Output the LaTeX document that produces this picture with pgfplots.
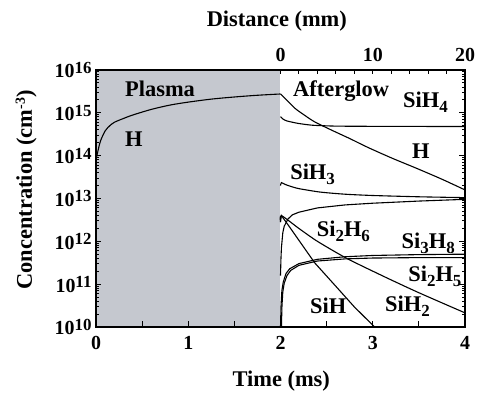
\documentclass[border=0pt]{standalone}
\usepackage{pgfplots}
\pgfplotsset{compat=1.18}
\usepackage{pgfplotstable}
\usepackage{fontspec}
\setmainfont{Liberation Serif}
\definecolor{plasmagray}{RGB}{197,200,207}
\newcommand\pw[1]{10\raisebox{4.5bp}{\fontsize{17}{17}\selectfont #1}}
\newcommand\sub[1]{\raisebox{-5bp}{\fontsize{17}{17}\selectfont #1}}
\newcommand\lab{\fontsize{22.5}{24}\selectfont\bfseries}

\pgfplotstableread{
x y
0 13.9
0.02 14.1
0.05 14.35
0.1 14.58
0.15 14.7
0.2 14.78
0.3 14.87
0.4 14.95
0.6 15.08
0.8 15.18
1.0 15.25
1.25 15.32
1.5 15.37
1.75 15.41
2.0 15.44
}\Hplasma
\pgfplotstableread{
x y
2.0 15.44
2.03 15.38
2.08 15.27
2.16 15.10
2.25 14.96
2.37 14.79
2.55 14.60
2.75 14.40
2.94 14.20
3.2 13.95
3.48 13.70
3.75 13.45
4.0 13.20
}\Hafter
\pgfplotstableread{
x y
2.0 14.91
2.03 14.85
2.07 14.81
2.13 14.78
2.2 14.75
2.35 14.71
2.6 14.69
3.0 14.685
4.0 14.68
}\SiHfour
\pgfplotstableread{
x y
2.0 13.30
2.01 13.37
2.05 13.33
2.1 13.29
2.2 13.23
2.43 13.15
2.7 13.10
3.0 13.07
3.5 13.04
4.0 13.02
}\SiHthree
\pgfplotstableread{
x y
2.0 11.2
2.005 11.6
2.01 11.85
2.025 12.2
2.04 12.35
2.08 12.52
2.13 12.62
2.2 12.68
2.4 12.78
2.7 12.85
3.0 12.89
3.5 12.94
4.0 12.98
}\SiTwoHsix
\pgfplotstableread{
x y
2.0 12.45
2.01 12.6
2.1 12.33
2.37 11.5
2.6 10.95
2.8 10.47
3.02 10.0
}\SiH
\pgfplotstableread{
x y
2.0 12.45
2.01 12.6
2.2 12.3
2.4 12.0
2.72 11.6
3.13 11.17
3.5 10.8
4.0 10.33
}\SiTwoHfive
\pgfplotstableread{
x y
2.0 10.0
2.006 10.5
2.015 10.85
2.03 11.05
2.06 11.25
2.1 11.36
2.2 11.48
2.4 11.58
2.7 11.64
3.0 11.67
3.5 11.69
4.0 11.70
}\SiThreeHeight
\pgfplotstableread{
x y
2.01 10.0
2.016 10.5
2.025 10.82
2.04 11.02
2.07 11.2
2.11 11.32
2.2 11.44
2.4 11.54
2.7 11.59
3.0 11.61
3.5 11.62
4.0 11.62
}\SiHtwo

\begin{document}
\begin{tikzpicture}
\begin{axis}[
  scale only axis, width=369bp, height=257bp,
  xmin=0, xmax=4, ymode=log, ymin=1e10, ymax=1e16,
  axis on top, clip=false,
  axis line style={line width=1.5bp},
  tick style={line width=1bp, black},
  major tick length=5.5bp, minor tick length=3.2bp,
  tick align=inside,
  xtick={0,0.5,...,4}, xticklabels={0,,1,,2,,3,,4},
  xtick pos=left,
  ytick={1e10,1e11,1e12,1e13,1e14,1e15,1e16},
  yticklabels={\pw{10},\pw{11},\pw{12},\pw{13},\pw{14},\pw{15},\pw{16}},
  minor ytick={2e10,3e10,4e10,5e10,6e10,7e10,8e10,9e10,
    2e11,3e11,4e11,5e11,6e11,7e11,8e11,9e11,
    2e12,3e12,4e12,5e12,6e12,7e12,8e12,9e12,
    2e13,3e13,4e13,5e13,6e13,7e13,8e13,9e13,
    2e14,3e14,4e14,5e14,6e14,7e14,8e14,9e14,
    2e15,3e15,4e15,5e15,6e15,7e15,8e15,9e15},
  ytick pos=both, yticklabel pos=left,
  xticklabel style={font=\fontsize{20}{20}\selectfont\bfseries, anchor=north, yshift=-6bp},
  yticklabel style={font=\fontsize{20}{20}\selectfont\bfseries, anchor=base east, yshift=-8bp, xshift=-1bp},
]
\addplot[draw=none, fill=plasmagray, no marks] coordinates {(0,1e10) (0,1e16) (2,1e16) (2,1e10)};
\pgfplotsset{curve/.style={black, no marks, line width=1.1bp}}
\addplot[curve, smooth, tension=0.5] table[x=x, y expr={10^\thisrow{y}}] {\Hplasma};
\addplot[curve, smooth, tension=0.5] table[x=x, y expr={10^\thisrow{y}}] {\Hafter};
\addplot[curve, smooth, tension=0.4] table[x=x, y expr={10^\thisrow{y}}] {\SiHfour};
\addplot[curve, smooth, tension=0.4] table[x=x, y expr={10^\thisrow{y}}] {\SiHthree};
\addplot[curve] table[x=x, y expr={10^\thisrow{y}}] {\SiTwoHsix};
\addplot[curve] table[x=x, y expr={10^\thisrow{y}}] {\SiH};
\addplot[curve, smooth, tension=0.4] table[x=x, y expr={10^\thisrow{y}}] {\SiTwoHfive};
\addplot[curve] table[x=x, y expr={10^\thisrow{y}}] {\SiThreeHeight};
\addplot[curve] table[x=x, y expr={10^\thisrow{y}}] {\SiHtwo};

\node[anchor=base west, inner sep=0, font=\lab] at (rel axis cs:0.0786,0.897) {Plasma};
\node[anchor=base west, inner sep=0, font=\lab] at (rel axis cs:0.534,0.897) {Afterglow};
\node[anchor=base west, inner sep=0, font=\lab] at (rel axis cs:0.0786,0.702) {H};
\node[anchor=base west, inner sep=0, font=\lab] at (rel axis cs:0.856,0.656) {H};
\node[anchor=base west, inner sep=0, font=\lab] at (rel axis cs:0.832,0.856) {SiH\sub{4}};
\node[anchor=base west, inner sep=0, font=\lab] at (rel axis cs:0.526,0.572) {SiH\sub{3}};
\node[anchor=base west, inner sep=0, font=\lab] at (rel axis cs:0.598,0.351) {Si\sub{2}H\sub{6}};
\node[anchor=base west, inner sep=0, font=\lab] at (rel axis cs:0.828,0.306) {Si\sub{3}H\sub{8}};
\node[anchor=base west, inner sep=0, font=\lab] at (rel axis cs:0.846,0.176) {Si\sub{2}H\sub{5}};
\node[anchor=base west, inner sep=0, font=\lab] at (rel axis cs:0.580,0.053) {SiH};
\node[anchor=base west, inner sep=0, font=\lab] at (rel axis cs:0.783,0.060) {SiH\sub{2}};

\node[anchor=base, inner sep=0, font=\lab] at ([yshift=-60bp]rel axis cs:0.502,0) {Time (ms)};
\node[anchor=base, inner sep=0, font=\lab] at ([yshift=43bp]rel axis cs:0.49,1) {Distance (mm)};
\node[anchor=base, inner sep=0, rotate=90, font=\lab] at ([xshift=-64bp]rel axis cs:0,0.533) {Concentration (cm\raisebox{7bp}{\fontsize{14}{14}\selectfont -3})};
\end{axis}
\begin{axis}[
  scale only axis, width=369bp, height=257bp,
  xmin=-20, xmax=20, ymin=0, ymax=1,
  hide y axis,
  axis line style={line width=1.5bp},
  tick style={line width=1bp, black},
  major tick length=4.5bp, tick align=inside,
  xtick={0,2,...,20}, xticklabels={0,,,,,10,,,,,20},
  xtick pos=right, xticklabel pos=right,
  xticklabel style={font=\fontsize{20}{20}\selectfont\bfseries, anchor=south, yshift=5bp},
]
\end{axis}
\path ([xshift=-96bp,yshift=-66bp]current axis.south west) rectangle ([xshift=18bp,yshift=70bp]current axis.north east);
\end{tikzpicture}
\end{document}
